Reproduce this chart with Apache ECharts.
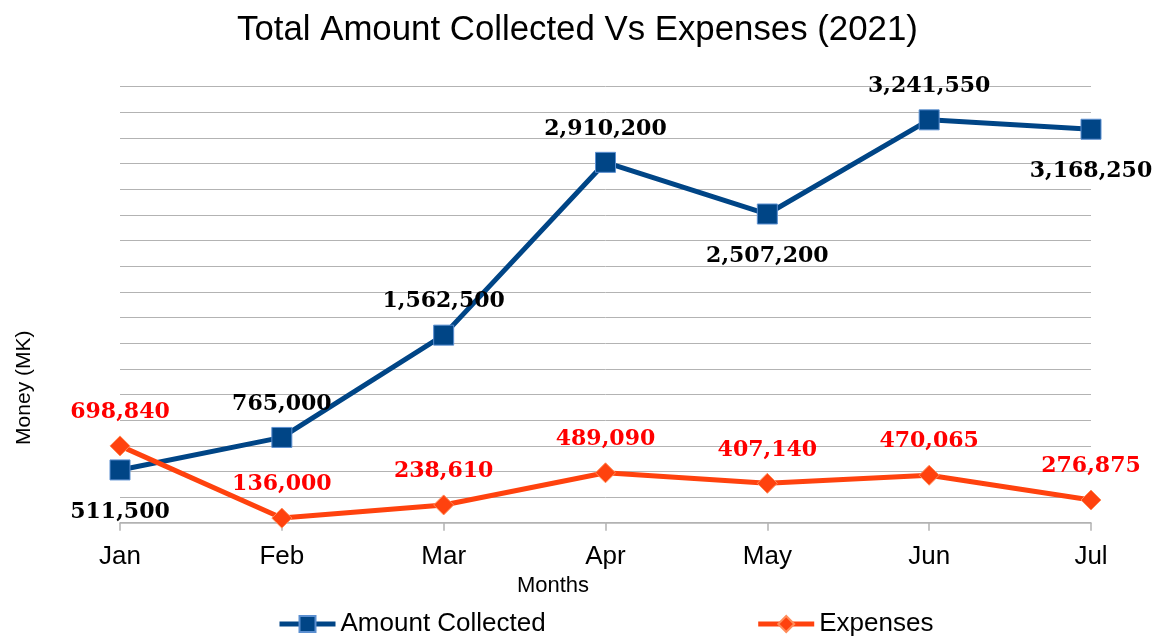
<!DOCTYPE html>
<html><head><meta charset="utf-8">
<script src="https://cdn.jsdelivr.net/npm/echarts@6/dist/echarts.min.js"></script>
<style>html,body{margin:0;padding:0;background:#fff}#c{width:1161px;height:637px}</style>
</head><body><div id="c"></div>
<script>
const months = ['Jan', 'Feb', 'Mar', 'Apr', 'May', 'Jun', 'Jul'];
const amountCollected = [511500, 765000, 1562500, 2910200, 2507200, 3241550, 3168250];
const expenses = [698840, 136000, 238610, 489090, 407140, 470065, 276875];
const seriesNames = ['Amount Collected', 'Expenses'];
const chartTitle = 'Total Amount Collected Vs Expenses (2021)';
const xName = 'Months';
const yName = 'Money (MK)';

const fmt = v => Number(v).toLocaleString('en-US');
const belowMonths = ['Jan', 'May', 'Jul'];

const chart = echarts.init(document.getElementById('c'), null, {renderer: 'canvas'});
const labelBase = {
  show: true,
  fontFamily: 'DejaVu Serif',
  fontWeight: 'bold',
  fontSize: 22,
  formatter: p => fmt(p.value)
};
chart.setOption({
  animation: false,
  backgroundColor: '#ffffff',
  title: {
    text: chartTitle,
    left: 237,
    top: 13,
    padding: 0,
    textStyle: {fontFamily: 'Liberation Sans', fontSize: 34.8, fontWeight: 'normal', color: '#000'}
  },
  legend: {
    left: 277,
    top: 611,
    padding: 0,
    itemWidth: 56,
    itemHeight: 20,
    itemGap: 210,
    lineStyle: {width: 5},
    textStyle: {fontFamily: 'Liberation Sans', fontSize: 26, color: '#000'},
    data: seriesNames
  },
  grid: {left: 120, right: 70, top: 86.7, bottom: 114.3, containLabel: false},
  xAxis: {
    type: 'category',
    data: months,
    boundaryGap: false,
    axisLine: {lineStyle: {color: '#b3b3b3', width: 1.5}},
    axisTick: {show: true, length: 8, lineStyle: {color: '#b3b3b3', width: 1.5}},
    axisLabel: {fontFamily: 'Liberation Sans', fontSize: 26, color: '#000', margin: 21},
    name: xName,
    nameLocation: 'middle',
    nameGap: 50,
    nameTextStyle: {fontFamily: 'Liberation Sans', fontSize: 22, color: '#000', padding: [0, 105, 0, 0]}
  },
  yAxis: {
    type: 'value',
    min: 100000,
    max: 3500000,
    interval: 100000,
    axisLabel: {show: false},
    axisLine: {show: false},
    axisTick: {show: false},
    splitLine: {lineStyle: {color: ['#b3b3b3', 'rgba(0,0,0,0)'], width: 1}},
    name: yName,
    nameLocation: 'middle',
    nameGap: 85,
    nameTextStyle: {fontFamily: 'Liberation Sans', fontSize: 21, color: '#000', padding: [0, 166, 0, 0]}
  },
  series: [
    {
      name: seriesNames[0],
      type: 'line',
      data: amountCollected.map((v, i) => ({
        value: v,
        label: belowMonths.includes(months[i]) ? {position: 'bottom', distance: 21} : {position: 'top', distance: 12}
      })),
      symbol: 'rect',
      symbolSize: 20,
      lineStyle: {color: '#004586', width: 5},
      itemStyle: {color: '#004586', borderColor: '#5b8fd0', borderWidth: 1},
      label: Object.assign({}, labelBase, {color: '#000'}),
      z: 2
    },
    {
      name: seriesNames[1],
      type: 'line',
      data: expenses,
      symbol: 'diamond',
      symbolSize: 20,
      lineStyle: {color: '#ff420e', width: 5},
      itemStyle: {color: '#ff420e', borderColor: '#ff8c5a', borderWidth: 1},
      label: Object.assign({}, labelBase, {color: '#ff0000', position: 'top', distance: 12}),
      z: 3
    }
  ]
});
</script>
</body></html>
